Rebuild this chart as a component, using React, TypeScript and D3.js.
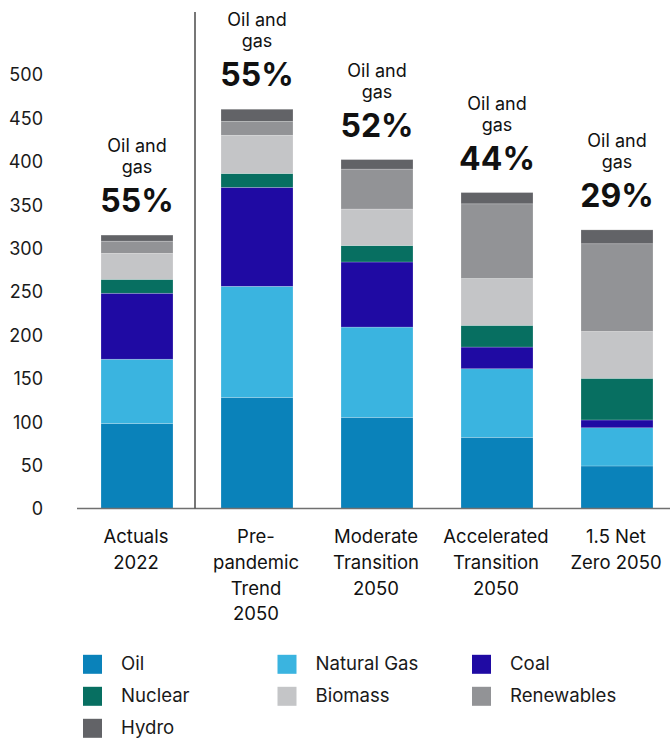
import React from "react";
import * as d3 from "d3";

const categories = ["Actuals 2022", "Pre-pandemic Trend 2050", "Moderate Transition 2050", "Accelerated Transition 2050", "1.5 Net Zero 2050"];
const categoryLines = [["Actuals", "2022"], ["Pre-", "pandemic", "Trend", "2050"], ["Moderate", "Transition", "2050"], ["Accelerated", "Transition", "2050"], ["1.5 Net", "Zero 2050"]];
const seriesNames = ["Oil", "Natural Gas", "Coal", "Nuclear", "Biomass", "Renewables", "Hydro"];
const oil = [98, 128, 105, 82, 49];
const naturalGas = [74, 128, 104, 79, 44];
const coal = [76, 114, 75, 25, 9];
const nuclear = [16, 16, 19, 25, 48];
const biomass = [30, 44, 42, 54, 54];
const renewables = [14, 16, 46, 86, 101];
const hydro = [7, 14, 11, 13, 16];
const oilGasShare = ["55%", "55%", "52%", "44%", "29%"];
const yTicks = [0, 50, 100, 150, 200, 250, 300, 350, 400, 450, 500];

const colors = ["#0a82ba", "#3ab4e0", "#1f0aa3", "#076f61", "#c4c5c7", "#929396", "#626367"];

const W = 670, H = 740;
const FONT = "Inter, Roboto, 'Noto Sans', sans-serif";

export default function App() {
  const seriesValues = [oil, naturalGas, coal, nuclear, biomass, renewables, hydro];
  const rows = categories.map((c, i) => {
    const r: any = { cat: c };
    seriesNames.forEach((s, j) => (r[s] = seriesValues[j][i]));
    return r;
  });
  const stack = d3.stack().keys(seriesNames)(rows as any);

  const x = d3.scaleBand().domain(categories).range([77, 677]).paddingInner(0.4).paddingOuter(0.2);
  const y = d3.scaleLinear().domain([0, 500]).range([508.5, 74.5]);

  const totals = rows.map((r) => seriesNames.reduce((a, s) => a + r[s], 0));

  return (
    <svg width={W} height={H} style={{ position: "absolute", left: 0, top: 0, background: "#fff" }} fontFamily={FONT}>
      {yTicks.map((t) => (
        <text key={t} x={43} y={y(t) + 2} textAnchor="end" dominantBaseline="middle" fontSize={18} fill="#1a1a1a">
          {t}
        </text>
      ))}
      {stack.map((layer, j) => (
        <g key={seriesNames[j]} fill={colors[j]}>
          {layer.map((d, i) => (
            <rect key={i} x={x(categories[i])} width={x.bandwidth()} y={y(d[1])} height={y(d[0]) - y(d[1])} stroke="#ffffff" strokeOpacity={0.35} strokeWidth={0.6} />
          ))}
        </g>
      ))}
      <line x1={77} x2={670} y1={y(0)} y2={y(0)} stroke="#707070" strokeWidth={1.6} />
      <line x1={195} x2={195} y1={12} y2={y(0)} stroke="#555" strokeWidth={1.6} />
      {categories.map((c, i) => {
        const cx = (x(c) as number) + x.bandwidth() / 2;
        const base = y(totals[i]) - 23;
        return (
          <g key={c} textAnchor="middle" fill="#111">
            <text x={cx} y={base - 60} fontSize={18}>Oil and</text>
            <text x={cx} y={base - 39} fontSize={18}>gas</text>
            <text x={cx} y={base} fontSize={32} fontWeight="bold">{oilGasShare[i]}</text>
          </g>
        );
      })}
      {categoryLines.map((lines, i) => {
        const cx = (x(categories[i]) as number) + x.bandwidth() / 2 - 1;
        return (
          <text key={i} textAnchor="middle" fontSize={18.5} fill="#111">
            {lines.map((l, k) => (
              <tspan key={k} x={cx} y={543 + k * 25.8}>{l}</tspan>
            ))}
          </text>
        );
      })}
      {seriesNames.map((s, j) => {
        const col = j % 3, row = Math.floor(j / 3);
        const lx = 83 + col * 194.5;
        const ly = 664.3 + row * 32;
        return (
          <g key={s}>
            <rect x={lx} y={ly - 9.5} width={19} height={19} fill={colors[j]} />
            <text x={lx + 38} y={ly + 1} dominantBaseline="middle" fontSize={18.6} fill="#1a1a1a">{s}</text>
          </g>
        );
      })}
    </svg>
  );
}
